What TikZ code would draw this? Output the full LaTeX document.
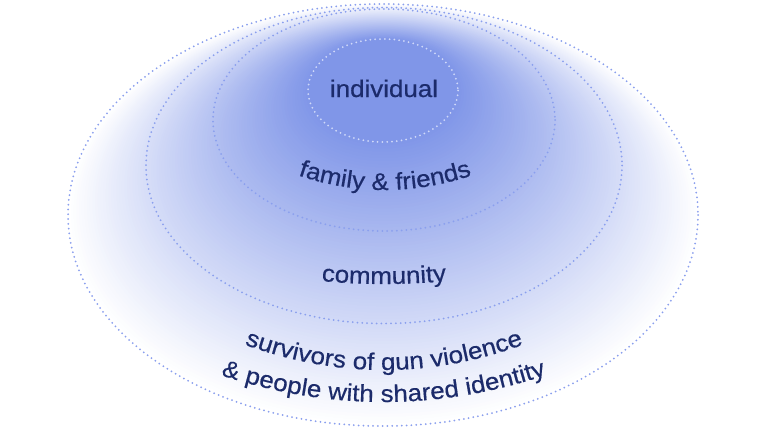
\documentclass[tikz,border=0pt]{standalone}
\usepackage{fontspec}
\setmainfont{Liberation Sans}
\newfontfamily\lblfont{Liberation Sans}[FakeStretch=1.08,FakeBold=0.5]
\usetikzlibrary{decorations.text}
\definecolor{core}{HTML}{8096E8}
\definecolor{ink}{HTML}{1C2B6B}
\definecolor{dotblue}{HTML}{8A9FEE}
\definecolor{dotlight}{HTML}{D0D9F9}
\begin{document}
\begin{tikzpicture}[x=1pt,y=-1pt,
  ring/.style={draw=dotblue, line width=2pt, line cap=round, dash pattern=on 0pt off 4.8pt},
  lbl/.style={font=\lblfont\fontsize{24}{28}\selectfont, text=ink, inner sep=0pt}]
\useasboundingbox[fill=white] (0,0) rectangle (768,432);
% gradient made of nested ellipses
\foreach \i in {90,89,...,0}{
  \pgfmathsetmacro\t{\i/90}
  \pgfmathsetmacro\cy{90.5+124.5*\t}
  \pgfmathsetmacro\rx{75+240*\t}
  \pgfmathsetmacro\ry{51.5+159.5*\t}
  \pgfmathsetmacro\f{100*(1-\t)}
  \fill[core!\f!white] (383.5,\cy) ellipse [x radius=\rx, y radius=\ry];
}
% dotted rings
\draw[ring] (383,215) ellipse [x radius=315, y radius=211];
\draw[ring] (384,165.5) ellipse [x radius=238, y radius=158];
\draw[ring] (384,120) ellipse [x radius=171, y radius=111];
\draw[ring, draw=dotlight] (383,90.5) ellipse [x radius=75, y radius=51.5];
% labels
\node[lbl, anchor=base] (ind) at (384,97) {individual};
\path[decorate, decoration={text along path, text align=center,
  text={|\lblfont\fontsize{24}{28}\selectfont\color{ink}|family {\&} friends}}]
  (280,168.6) .. controls (350,197.1) and (420,197.1) .. (490,168.6);
\path[decorate, decoration={text along path, text align=center,
  text={|\lblfont\fontsize{24}{28}\selectfont\color{ink}|community}}]
  (294,277.9) .. controls (354,286) and (414,286) .. (474,277.9);
\path[decorate, decoration={text along path, text align=center,
  text={|\lblfont\fontsize{24}{28}\selectfont\color{ink}|survivors of gun violence}}]
  (219,334.4) .. controls (329,381.9) and (439,381.9) .. (549,334.4);
\path[decorate, decoration={text along path, text align=center,
  text={|\lblfont\fontsize{24}{28}\selectfont\color{ink}|{\&} people with shared identity}}]
  (193.5,365.3) .. controls (320.2,414.2) and (446.8,414.2) .. (573.5,365.3);
\end{tikzpicture}
\end{document}
